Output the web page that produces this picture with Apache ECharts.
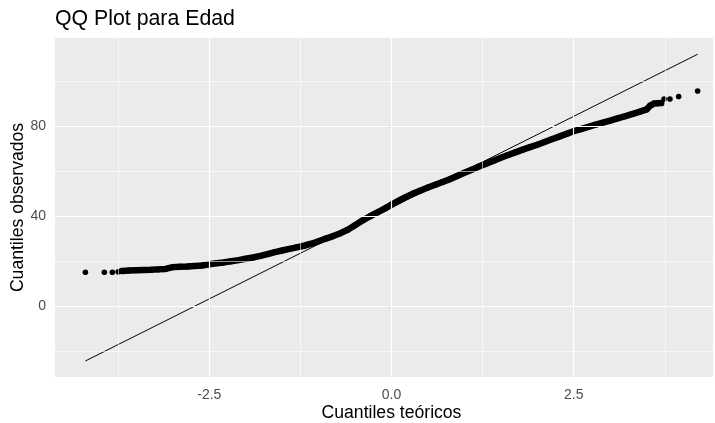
<!DOCTYPE html>
<html>
<head>
<meta charset="utf-8">
<script src="https://cdn.jsdelivr.net/npm/echarts@6/dist/echarts.min.js"></script>
<style>html,body{margin:0;padding:0;background:#fff;}#c{width:715px;height:423px;}</style>
</head>
<body>
<div id="c"></div>
<script>
const bandX = [-3.7,-3.6,-3.5,-3.4,-3.3,-3.2,-3.1,-3.0,-2.9,-2.8,-2.7,-2.6,-2.5,-2.4,-2.3,-2.2,-2.1,-2.0,-1.9,-1.8,-1.7,-1.6,-1.5,-1.4,-1.3,-1.2,-1.1,-1.0,-0.9,-0.8,-0.7,-0.6,-0.5,-0.4,-0.3,-0.2,-0.1,0.0,0.1,0.2,0.3,0.4,0.5,0.6,0.7,0.8,0.9,1.0,1.1,1.2,1.3,1.4,1.5,1.6,1.7,1.8,1.9,2.0,2.1,2.2,2.3,2.4,2.5,2.6,2.7,2.8,2.9,3.0,3.1,3.2,3.3,3.4,3.5,3.55,3.6,3.65,3.7];
const bandY = [15.8,16.0,16.1,16.2,16.3,16.5,16.7,17.5,17.7,17.8,18.0,18.2,18.8,19.2,19.6,20.1,20.6,21.2,21.8,22.5,23.3,24.2,24.9,25.6,26.3,27.0,27.9,29.0,30.2,31.3,32.6,34.1,36.1,38.2,40.0,41.7,43.4,45.3,47.0,48.7,50.2,51.6,52.9,54.1,55.3,56.6,58.0,59.4,60.8,62.2,63.5,64.8,66.1,67.3,68.5,69.7,70.8,71.9,73.1,74.3,75.5,76.7,77.9,78.8,79.8,80.8,81.7,82.6,83.6,84.5,85.5,86.5,87.6,89.3,90.2,90.3,90.4];
const tailX = [-4.2,-3.94,-3.83,-3.75,3.74,3.82,3.94,4.2];
const tailY = [15.2,15.2,15.2,15.4,92.2,92.2,93.3,95.8];
const refLineX = [-4.2, 4.2];
const refLineY = [-24.2, 112.1];
const xMajor = [-2.5, 0, 2.5];
const xMinor = [-3.75, -1.25, 1.25, 3.75];
const yMajor = [0, 40, 80];
const yMinor = [-20, 20, 60, 100];
const xLabels = ['-2.5', '0.0', '2.5'];
const yLabels = ['0', '40', '80'];

const FONT = "'Liberation Sans', Arial, sans-serif";
const zip = (a, b) => a.map((v, i) => [v, b[i]]);

const gridLines = [];
xMinor.forEach(v => gridLines.push({xAxis: v, lineStyle: {width: 0.6}}));
yMinor.forEach(v => gridLines.push({yAxis: v, lineStyle: {width: 0.6}}));
xMajor.forEach(v => gridLines.push({xAxis: v, lineStyle: {width: 1.2}}));
yMajor.forEach(v => gridLines.push({yAxis: v, lineStyle: {width: 1.2}}));

const chart = echarts.init(document.getElementById('c'), null, {renderer: 'canvas'});
chart.setOption({
  animation: false,
  backgroundColor: '#ffffff',
  title: {
    text: 'QQ Plot para Edad', left: 55, top: 9, padding: 0,
    textStyle: {fontFamily: FONT, fontSize: 21.3, fontWeight: 'normal', color: '#000'}
  },
  grid: {left: 55, top: 38, width: 658, height: 339, show: true, backgroundColor: '#EBEBEB', borderWidth: 0,
    containLabel: false, outerBoundsMode: 'none'},
  xAxis: {
    type: 'value', min: -4.617, max: 4.411,
    axisLine: {show: false},
    splitLine: {show: false},
    axisTick: {show: true, length: 4.4, lineStyle: {color: '#333333', width: 1.1}, customValues: xMajor},
    axisLabel: {color: '#4D4D4D', fontFamily: FONT, fontSize: 14, margin: 11, customValues: xMajor,
      formatter: v => xLabels[xMajor.indexOf(v)] ?? ''},
    name: 'Cuantiles teóricos', nameLocation: 'middle', nameGap: 27, nameMoveOverlap: false,
    nameTextStyle: {fontFamily: FONT, fontSize: 17.6, color: '#000', padding: [0, 0, 0, 15]}
  },
  yAxis: {
    type: 'value', min: -31.33, max: 119.33,
    axisLine: {show: false},
    splitLine: {show: false},
    axisTick: {show: true, length: 4.4, lineStyle: {color: '#333333', width: 1.1}, customValues: yMajor},
    axisLabel: {color: '#4D4D4D', fontFamily: FONT, fontSize: 14, margin: 9, customValues: yMajor,
      formatter: v => yLabels[yMajor.indexOf(v)] ?? ''},
    name: 'Cuantiles observados', nameLocation: 'middle', nameGap: 28, nameMoveOverlap: false,
    nameTextStyle: {fontFamily: FONT, fontSize: 17.6, color: '#000'}
  },
  series: [
    {
      type: 'line', data: [], z: 1, silent: true,
      markLine: {silent: true, symbol: ['none', 'none'], label: {show: false}, animation: false,
        lineStyle: {color: '#FFFFFF', type: 'solid'}, emphasis: {disabled: true}, data: gridLines}
    },
    {
      type: 'line', data: zip(bandX, bandY), z: 3, silent: true,
      symbol: 'circle', symbolSize: 6, showSymbol: true,
      itemStyle: {color: '#000', opacity: 1}, lineStyle: {color: '#000', width: 6.5, cap: 'round', join: 'round'}
    },
    {
      type: 'scatter', data: zip(tailX, tailY), z: 3, silent: true,
      symbol: 'circle', symbolSize: 5.6, itemStyle: {color: '#000', opacity: 1}
    },
    {
      type: 'line', data: zip(refLineX, refLineY), z: 4, silent: true,
      showSymbol: false, lineStyle: {color: '#000', width: 1}
    }
  ]
});
</script>
</body>
</html>
